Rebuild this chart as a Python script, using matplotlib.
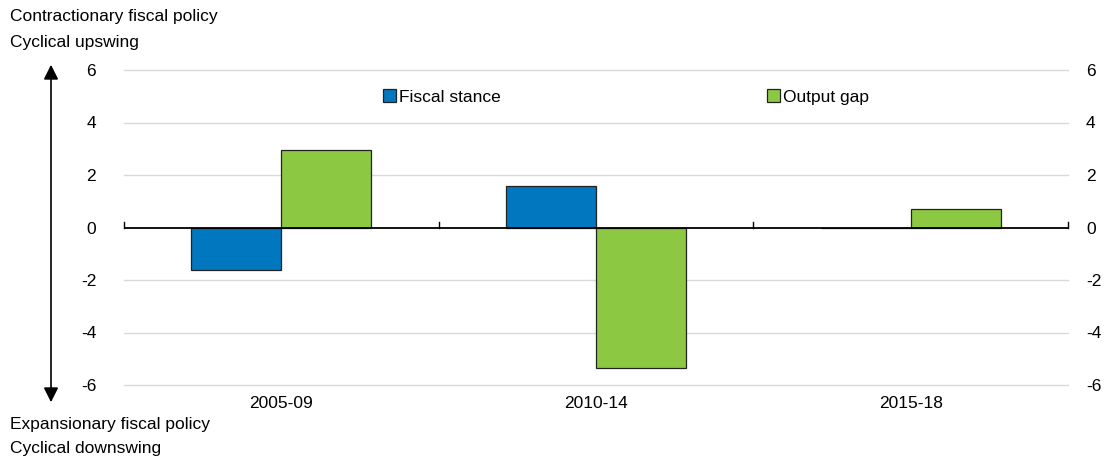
import matplotlib
matplotlib.use("Agg")
import matplotlib.pyplot as plt
import numpy as np

plt.rcParams["font.family"] = ["Liberation Sans", "DejaVu Sans"]
plt.rcParams["font.size"] = 12.5

periods = ["2005-09", "2010-14", "2015-18"]
fiscal_stance = [-1.62, 1.58, -0.03]
output_gap = [2.95, -5.35, 0.69]
yticks = [-6, -4, -2, 0, 2, 4, 6]

blue = "#0077BF"
green = "#8CC841"

fig = plt.figure(figsize=(11.05, 4.58), dpi=100)
ax = fig.add_axes([124 / 1105, 1 - 385 / 458, 944 / 1105, 315 / 458])

x = np.arange(len(periods))
w = 0.286
ax.bar(x - w / 2, fiscal_stance, w, color=blue, edgecolor="#222222", linewidth=0.9,
       label="Fiscal stance", zorder=3)
ax.bar(x + w / 2, output_gap, w, color=green, edgecolor="#222222", linewidth=0.9,
       label="Output gap", zorder=3)

ax.set_xlim(-0.5, len(periods) - 0.5)
ax.set_ylim(-6, 6)
ax.set_yticks(yticks)
ax.set_yticklabels([str(v) for v in yticks])
for v in yticks:
    if v != 0:
        ax.axhline(v, color="#d9d9d9", linewidth=1.0, zorder=1, clip_on=False)
ax.axhline(0, color="black", linewidth=1.3, zorder=4)

# small boundary ticks on the zero line
for b in np.arange(-0.5, len(periods), 1.0):
    ax.plot([b, b], [0, 0.2], color="black", linewidth=1.0, zorder=4, clip_on=False)

ax.set_xticks(x)
ax.set_xticklabels(periods)
ax.tick_params(axis="x", length=0, pad=8)
ax.tick_params(axis="y", length=0, pad=20)
for s in ax.spines.values():
    s.set_visible(False)

ax2 = ax.twinx()
ax2.set_ylim(-6, 6)
ax2.set_yticks(yticks)
ax2.set_yticklabels([str(v) for v in yticks])
ax2.tick_params(axis="y", length=0, pad=13)
for s in ax2.spines.values():
    s.set_visible(False)

ax.legend(loc="center left", bbox_to_anchor=(0.267, 0.914), ncol=2, frameon=False,
          handlelength=0.75, handleheight=0.75, handletextpad=0.2, columnspacing=15.3,
          borderaxespad=0, fontsize=12.5)

# arrow on the left
fig.patches.append(matplotlib.patches.FancyArrowPatch(
    (51 / 1105, 1 - 405 / 458), (51 / 1105, 1 - 62 / 458), transform=fig.transFigure,
    arrowstyle="<|-|>", mutation_scale=22, color="black", linewidth=1.2))

fig.text(10 / 1105, 1 - 17 / 458, "Contractionary fiscal policy", va="center", ha="left")
fig.text(10 / 1105, 1 - 42 / 458, "Cyclical upswing", va="center", ha="left")
fig.text(10 / 1105, 1 - 425 / 458, "Expansionary fiscal policy", va="center", ha="left")
fig.text(10 / 1105, 1 - 448 / 458, "Cyclical downswing", va="center", ha="left")

fig.savefig("out.png", dpi=100)
